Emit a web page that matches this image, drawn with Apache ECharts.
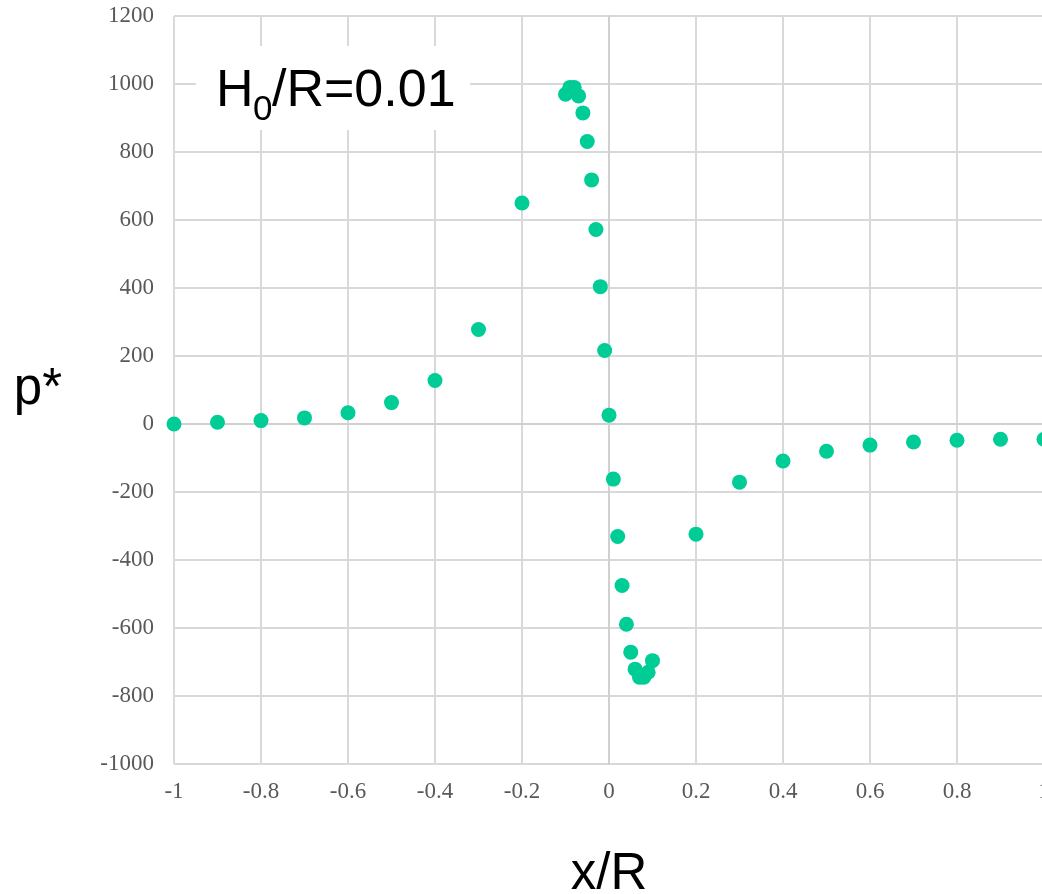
<!DOCTYPE html>
<html>
<head>
<meta charset="utf-8">
<script src="https://cdn.jsdelivr.net/npm/echarts@6/dist/echarts.min.js"></script>
<style>
html, body { margin: 0; padding: 0; overflow: hidden; background: #fff; }
#chart { width: 1060px; height: 894px; }
</style>
</head>
<body>
<div id="chart"></div>
<script>
// x/R positions of the measured points
var xValues = [-1, -0.9, -0.8, -0.7, -0.6, -0.5, -0.4, -0.3, -0.2,
	-0.1, -0.09, -0.08, -0.07, -0.06, -0.05, -0.04, -0.03, -0.02, -0.01, 0,
	0.01, 0.02, 0.03, 0.04, 0.05, 0.06, 0.07, 0.08, 0.09, 0.1,
	0.2, 0.3, 0.4, 0.5, 0.6, 0.7, 0.8, 0.9, 1];
// p* values
var pValues = [0, 5, 10, 18, 33, 63, 128, 278, 650,
	970, 990, 990, 965, 915, 831, 718, 572, 404, 216, 26,
	-162, -331, -475, -589, -671, -721, -745, -745, -730, -696,
	-324, -171, -109, -80, -62, -53, -48, -45, -45];

var points = [];
for (var i = 0; i < xValues.length; i++) {
	points.push([xValues[i], pValues[i]]);
}

var labelFont = {
	fontFamily : 'Liberation Serif',
	fontSize : 23,
	color : '#595959',
	formatter : function(v) {
		return String(Math.round(v * 1000) / 1000);
	}
};

var option = {
	backgroundColor : '#fff',
	animation : false,
	grid : {
		left : 174,
		right : 16,
		top : 16,
		bottom : 130,
		outerBoundsMode : 'none'
	},
	xAxis : {
		type : 'value',
		min : -1,
		max : 1,
		interval : 0.2,
		name : 'x/R',
		nameLocation : 'middle',
		nameGap : 85,
		nameTextStyle : {
			fontFamily : 'Liberation Sans',
			fontSize : 51,
			color : '#000'
		},
		axisLine : { show : true, lineStyle : { color : '#d0d0d0', width : 2 } },
		axisTick : { show : false },
		splitLine : { lineStyle : { color : '#d9d9d9', width : 2 } },
		axisLabel : Object.assign({ margin : 16 }, labelFont)
	},
	yAxis : {
		type : 'value',
		min : -1000,
		max : 1200,
		interval : 200,
		name : 'p*',
		nameLocation : 'middle',
		nameRotate : 0,
		nameGap : 112,
		nameTextStyle : {
			fontFamily : 'Liberation Sans',
			fontSize : 51,
			color : '#000',
			padding : [0, 0, 30, 0]
		},
		axisLine : { show : true, lineStyle : { color : '#d0d0d0', width : 2 } },
		axisTick : { show : false },
		splitLine : { lineStyle : { color : '#d9d9d9', width : 2 } },
		axisLabel : Object.assign({ margin : 20 }, labelFont)
	},
	graphic : [{
		type : 'rect',
		left : 196,
		top : 46,
		shape : { width : 274, height : 84 },
		style : { fill : '#fff' },
		z : 10
	}, {
		type : 'text',
		x : 216,
		y : 92,
		z : 11,
		style : {
			text : 'H',
			font : '52px "Liberation Sans"',
			fill : '#000',
			verticalAlign : 'middle'
		}
	}, {
		type : 'text',
		x : 253,
		y : 110,
		z : 11,
		style : {
			text : '0',
			font : '35px "Liberation Sans"',
			fill : '#000',
			verticalAlign : 'middle'
		}
	}, {
		type : 'text',
		x : 272,
		y : 92,
		z : 11,
		style : {
			text : '/R=0.01',
			font : '52px "Liberation Sans"',
			fill : '#000',
			verticalAlign : 'middle'
		}
	}],
	series : [{
		type : 'scatter',
		symbol : 'circle',
		symbolSize : 15,
		itemStyle : { color : '#00cc96', opacity : 1 },
		data : points
	}]
};

var chart = echarts.init(document.getElementById('chart'));
chart.setOption(option);
</script>
</body>
</html>
